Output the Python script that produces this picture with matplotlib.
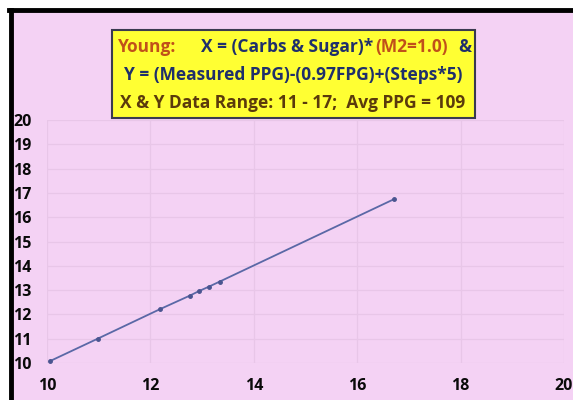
import numpy as np
import matplotlib.pyplot as plt
from matplotlib.patches import Rectangle
from matplotlib.lines import Line2D

# values
x_vals = [10.06, 10.98, 12.18, 12.76, 12.94, 13.13, 13.34, 16.71]
y_vals = [10.08, 11.0, 12.21, 12.77, 12.96, 13.14, 13.35, 16.74]
x_ticks = [10, 12, 14, 16, 18, 20]
y_ticks = list(range(10, 21))

pink = '#f4d2f4'
navy = '#1f2f6b'
brown = '#c0501a'
darkbrown = '#5a3a0c'

W, H = 573, 400
fig = plt.figure(figsize=(W / 100, H / 100), dpi=100)
fig.patch.set_facecolor(pink)

# white margin left and top, black frame along them
fig.patches.append(Rectangle((0, 0), 11 / W, 1, transform=fig.transFigure,
                             facecolor='white', edgecolor='none', zorder=-5))
fig.patches.append(Rectangle((0, 1 - 10 / H), 1, 10 / H, transform=fig.transFigure,
                             facecolor='white', edgecolor='none', zorder=-5))
fig.lines.append(Line2D([11 / W, 11 / W], [0, 1 - 10 / H], transform=fig.transFigure,
                        color='black', linewidth=3.5, zorder=-4))
fig.lines.append(Line2D([11 / W - 0.003, 1], [1 - 10 / H, 1 - 10 / H], transform=fig.transFigure,
                        color='black', linewidth=3.5, zorder=-4))

ax = fig.add_axes([47 / W, 1 - 363 / H, (564 - 47) / W, (363 - 120) / H])
ax.set_zorder(1)
ax.set_facecolor(pink)
ax.plot(x_vals, y_vals, color='#5a68a6', linewidth=1.3, marker='o',
        markersize=2.5, markerfacecolor='#4a5590', markeredgecolor='#4a5590')
ax.set_xlim(10, 20)
ax.set_ylim(10, 20)
ax.set_xticks(x_ticks)
ax.set_yticks(y_ticks)
ax.grid(True, color='#e8c6e8', linewidth=0.9)
ax.set_axisbelow(True)
for s in ax.spines.values():
    s.set_visible(False)
ax.tick_params(length=0, labelsize=11.5, colors='#0a0a0a')
ax.tick_params(axis='x', pad=11)
ax.tick_params(axis='y', pad=11)
for lab in ax.get_xticklabels() + ax.get_yticklabels():
    lab.set_fontweight('bold')
    lab.set_family('Open Sans')

# title box
fig.patches.append(Rectangle((112 / W, 1 - 118 / H), (475 - 112) / W, (118 - 30) / H,
                             transform=fig.transFigure, facecolor='#ffff33',
                             edgecolor='#3a3a50', linewidth=1.5, zorder=3))

fs = 12.5
fam = 'Open Sans'
fig.text(118 / W, 1 - 47 / H, 'Young:', color=brown, fontsize=fs, fontweight='bold',
         family=fam, va='center', ha='left', zorder=4)
fig.text(201 / W, 1 - 47 / H, 'X = (Carbs & Sugar)*', color=navy, fontsize=fs,
         fontweight='bold', family=fam, va='center', ha='left', zorder=4)
fig.text(375 / W, 1 - 47 / H, '(M2=1.0)', color=brown, fontsize=fs, fontweight='bold',
         family=fam, va='center', ha='left', zorder=4)
fig.text(471 / W, 1 - 47 / H, '&', color=navy, fontsize=fs, fontweight='bold',
         family=fam, va='center', ha='right', zorder=4)
fig.text(293 / W, 1 - 75 / H, 'Y = (Measured PPG)-(0.97FPG)+(Steps*5)', color=navy,
         fontsize=fs, fontweight='bold', family=fam, va='center', ha='center', zorder=4)
fig.text(293 / W, 1 - 103 / H, 'X & Y Data Range: 11 - 17;  Avg PPG = 109', color=darkbrown,
         fontsize=fs, fontweight='bold', family=fam, va='center', ha='center', zorder=4)

fig.savefig('out.png', dpi=100, facecolor=fig.get_facecolor())
